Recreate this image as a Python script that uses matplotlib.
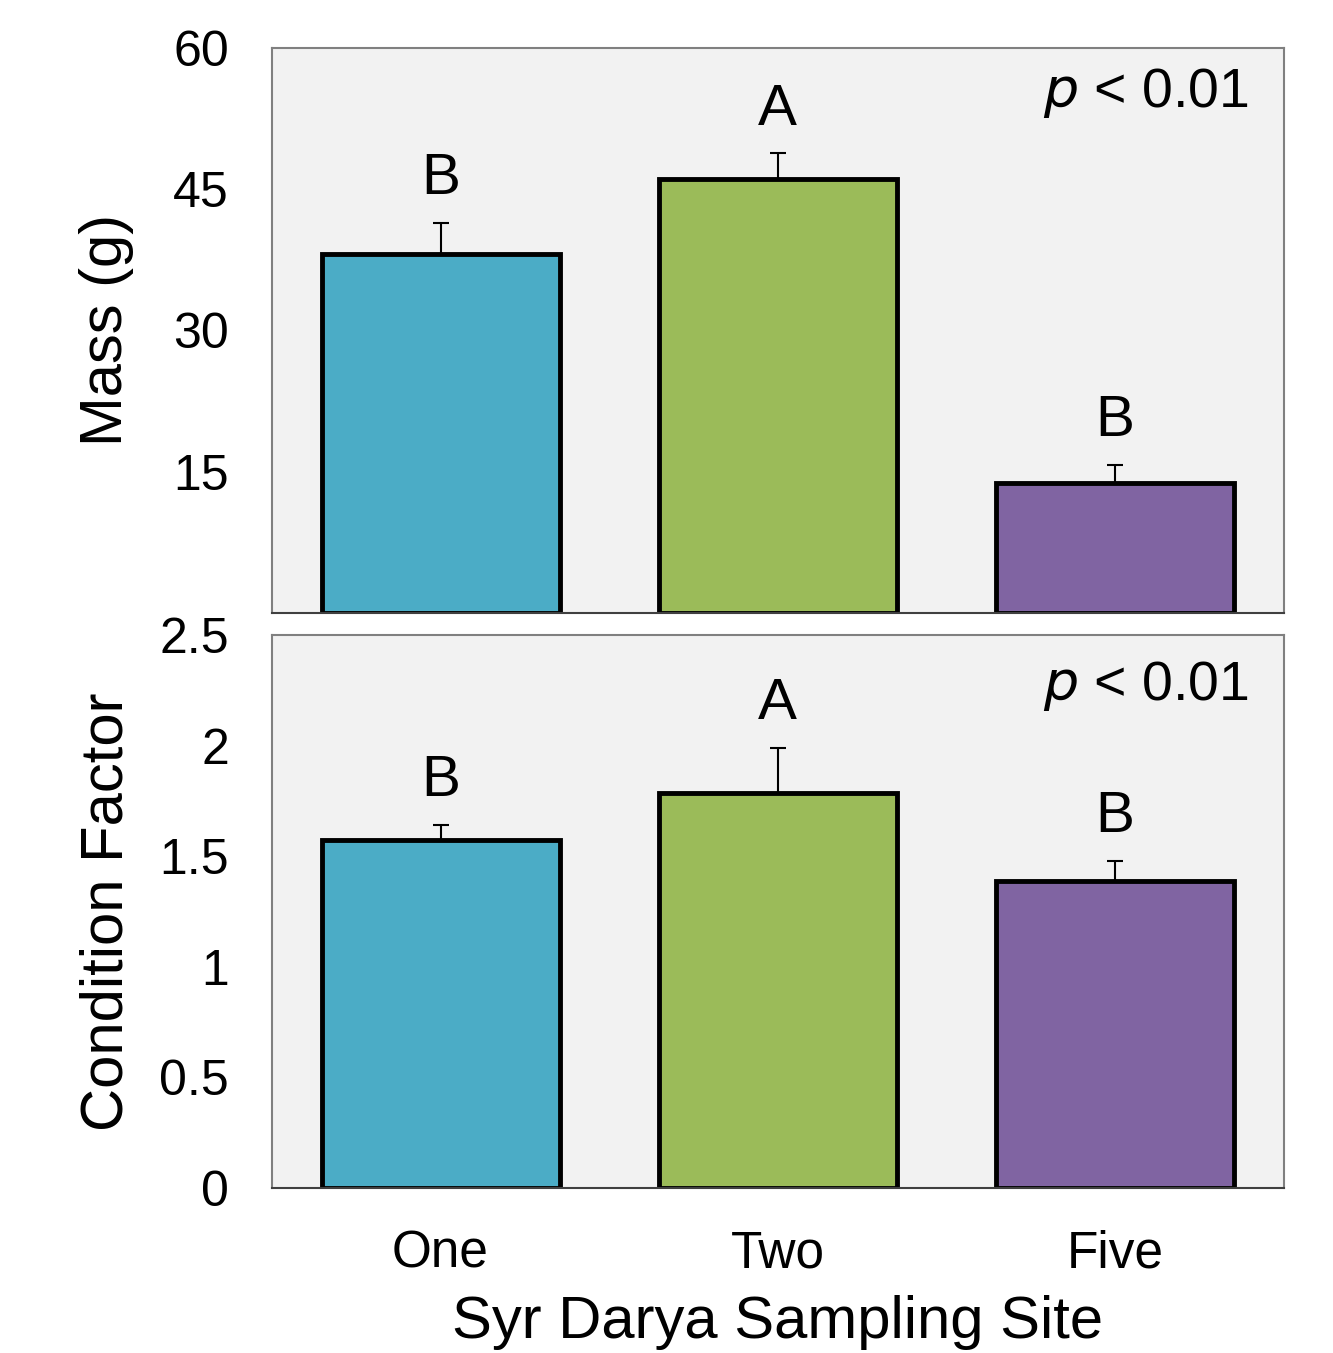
import matplotlib.pyplot as plt
import numpy as np

plt.rcParams['font.family'] = ['Liberation Sans', 'DejaVu Sans']

sites = ["One", "Two", "Five"]
colors = ["#4BACC6", "#9BBB59", "#8064A2"]

# values
mass = [38.1, 46.1, 13.8]
mass_err = [3.3, 2.7, 1.9]
mass_letters = ["B", "A", "B"]

cond = [1.573, 1.786, 1.388]
cond_err = [0.068, 0.203, 0.090]
cond_letters = ["B", "A", "B"]

fig = plt.figure(figsize=(13.33, 13.53), dpi=100)
ax1 = fig.add_axes([0.204, 0.547, 0.759, 0.4176])
ax2 = fig.add_axes([0.204, 0.122, 0.759, 0.4087])

x = np.arange(len(sites))

def panel(ax, vals, errs, letters, ymax, ticks, ticklabels, ylabel, ptext_y):
    ax.set_facecolor("#F2F2F2")
    ax.bar(x, vals, width=0.706, color=colors, edgecolor="black", linewidth=3.5, zorder=2)
    ax.errorbar(x, vals, yerr=[np.zeros(len(vals)), errs], fmt="none", ecolor="black",
                elinewidth=1.5, capsize=6, capthick=1.5, zorder=1)
    for xi, v, e, l in zip(x, vals, errs, letters):
        ax.annotate(l, (xi, v + e), xytext=(0, 12), textcoords="offset points",
                    ha="center", va="bottom", fontsize=42)
    ax.set_xlim(-0.5, 2.5)
    ax.set_ylim(0, ymax)
    ax.set_yticks(ticks)
    ax.set_yticklabels(ticklabels)
    ax.tick_params(axis="y", length=0, pad=31, labelsize=36)
    ax.set_ylabel(ylabel, fontsize=43, va="baseline")
    ax.yaxis.set_label_coords(-0.148, 0.5)
    for s in ["top", "right", "left"]:
        ax.spines[s].set_color("#808080")
        ax.spines[s].set_linewidth(1.5)
    ax.spines["bottom"].set_color("#404040")
    ax.spines["bottom"].set_linewidth(1.5)
    ax.text(0.966, ptext_y, r"$\it{p}$ < 0.01", transform=ax.transAxes,
            ha="right", va="center", fontsize=40)

panel(ax1, mass, mass_err, mass_letters, 60, [15, 30, 45, 60], ["15", "30", "45", "60"],
      "Mass (g)", 0.92)
ax1.set_xticks([])

panel(ax2, cond, cond_err, cond_letters, 2.5, [0, 0.5, 1, 1.5, 2, 2.5],
      ["0", "0.5", "1", "1.5", "2", "2.5"], "Condition Factor", 0.908)
ax2.set_xticks(x)
ax2.set_xticklabels(sites)
ax2.tick_params(axis="x", length=0, pad=30, labelsize=37)
ax2.set_xlabel("Syr Darya Sampling Site", fontsize=43, labelpad=12)

fig.savefig("out.png", dpi=100)
